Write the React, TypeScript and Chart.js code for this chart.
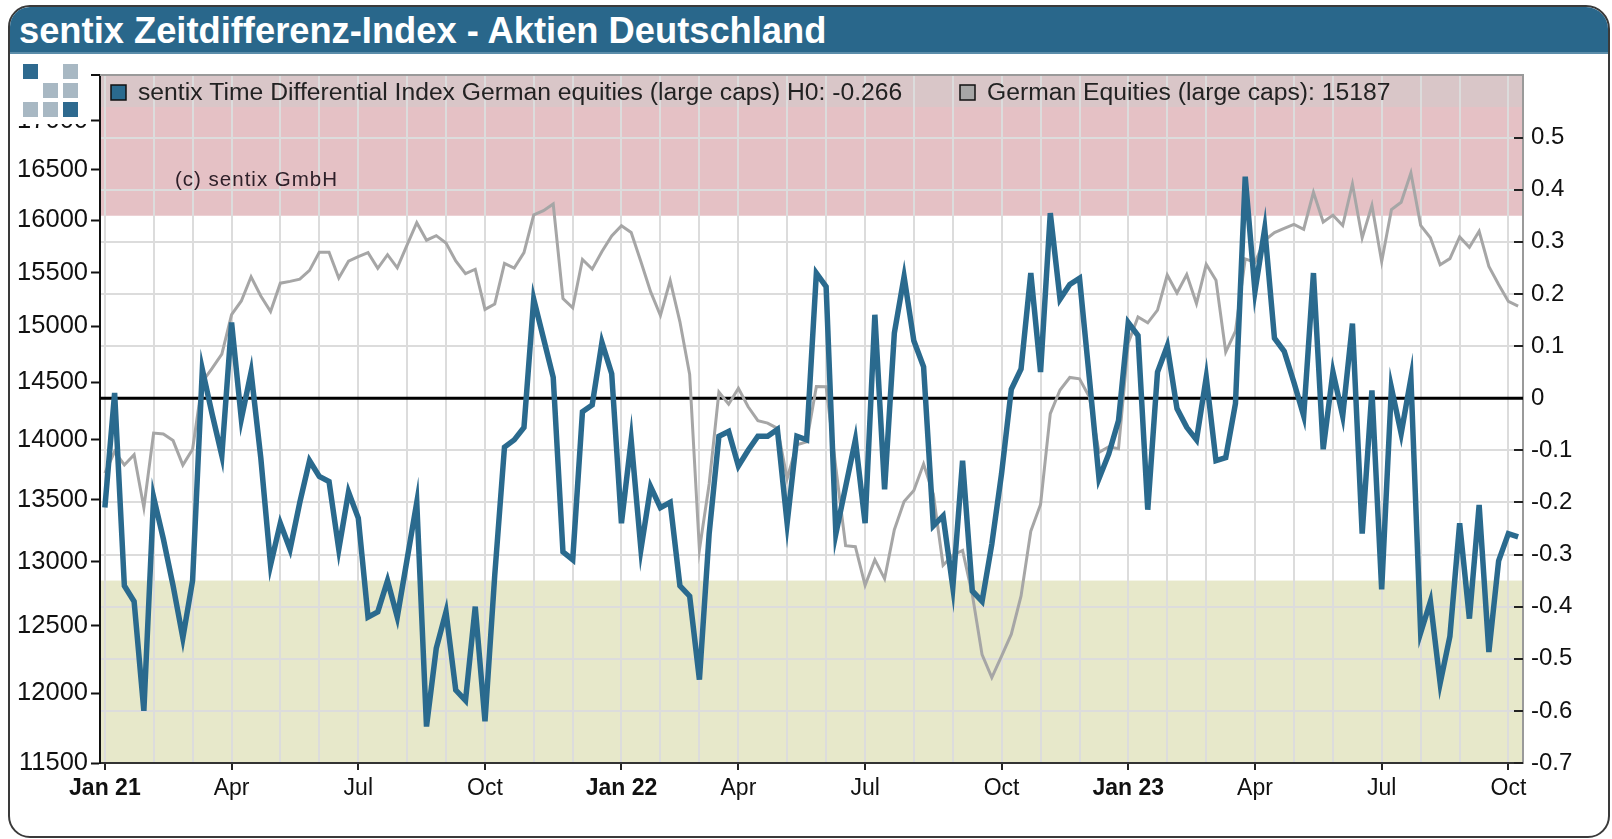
import React, { useEffect, useRef } from 'react';
import { Chart, registerables } from 'chart.js';

Chart.register(...registerables);

// ---------- data ----------
const firstWeek = Date.UTC(2021, 0, 1); // weekly observations, Fridays
const weekMs = 7 * 86400000;

const tdiValues = [
  -0.21, 0.01, -0.36, -0.39, -0.60, -0.19, -0.27, -0.36, -0.46, -0.35,
  0.055, -0.03, -0.11, 0.145, -0.04, 0.05, -0.115, -0.32, -0.24, -0.29,
  -0.20, -0.12, -0.15, -0.16, -0.29, -0.18, -0.23, -0.42, -0.41, -0.35,
  -0.42, -0.31, -0.20, -0.63, -0.48, -0.41, -0.56, -0.58, -0.40, -0.62,
  -0.34, -0.094, -0.08, -0.056, 0.19, 0.115, 0.04, -0.295, -0.31, -0.026,
  -0.013, 0.107, 0.047, -0.24, -0.08, -0.29, -0.17, -0.21, -0.20, -0.36,
  -0.38, -0.54, -0.26, -0.073, -0.064, -0.13, -0.10, -0.073, -0.073, -0.06,
  -0.24, -0.073, -0.08, 0.24, 0.214, -0.26, -0.17, -0.08, -0.24, 0.16,
  -0.175, 0.125, 0.233, 0.11, 0.06, -0.245, -0.226, -0.363, -0.12, -0.37,
  -0.39, -0.28, -0.145, 0.017, 0.056, 0.24, 0.05, 0.355, 0.19, 0.218,
  0.23, 0.04, -0.154, -0.107, -0.043, 0.145, 0.12, -0.214, 0.05, 0.10,
  -0.02, -0.056, -0.08, 0.04, -0.12, -0.114, -0.01, 0.425, 0.205, 0.325,
  0.115, 0.09, 0.03, -0.034, 0.24, -0.098, 0.05, -0.034, 0.143, -0.26,
  0.015, -0.367, 0.02, -0.068, 0.038, -0.45, -0.39, -0.547, -0.457, -0.24,
  -0.423, -0.205, -0.487, -0.312, -0.26, -0.266,
];

const equityValues = [
  13719, 13900, 13787, 13873, 13433, 14057, 14050, 13993, 13786, 13920,
  14502, 14621, 14749, 15107, 15234, 15460, 15280, 15136, 15400, 15417,
  15437, 15520, 15693, 15693, 15448, 15607, 15650, 15688, 15540, 15669,
  15544, 15761, 15977, 15808, 15852, 15781, 15609, 15490, 15531, 15156,
  15206, 15587, 15543, 15689, 16054, 16094, 16160, 15257, 15170, 15623,
  15532, 15700, 15850, 15948, 15883, 15603, 15318, 15100, 15425, 15042,
  14567, 13094, 13628, 14413, 14306, 14446, 14284, 14164, 14143, 14098,
  13674, 13958, 13982, 14462, 14460, 13762, 13126, 13118, 12813, 13015,
  12864, 13254, 13484, 13574, 13795, 13544, 12971, 13050, 13088, 12741,
  12284, 12114, 12273, 12438, 12731, 13243, 13460, 14224, 14431, 14541,
  14529, 14371, 13893, 13941, 13924, 14850, 15087, 15033, 15150, 15476,
  15308, 15482, 15210, 15578, 15428, 14768, 14957, 15629, 15597, 15808,
  15882, 15922, 15961, 15914, 16275, 15984, 16051, 15950, 16358, 15830,
  16148, 15603, 16105, 16177, 16469, 15952, 15832, 15574, 15632, 15840,
  15740, 15894, 15557, 15387, 15230, 15187,
];

const leftTicks = [11500, 12000, 12500, 13000, 13500, 14000, 14500, 15000, 15500, 16000, 16500, 17000];
const rightTicks = [-0.7, -0.6, -0.5, -0.4, -0.3, -0.2, -0.1, 0, 0.1, 0.2, 0.3, 0.4, 0.5];
const monthNames = ['Jan', 'Feb', 'Mar', 'Apr', 'May', 'Jun', 'Jul', 'Aug', 'Sep', 'Oct', 'Nov', 'Dec'];

const upperZone = 0.35;
const lowerZone = -0.35;

const tdiLabel = 'sentix Time Differential Index German equities (large caps) H0: ';
const equityLabel = 'German Equities (large caps): ';

// ---------- styles ----------
const FONT = '"Liberation Sans", Arial, Helvetica, sans-serif';
const BLUE = '#2a6a8e';
const GRAY = '#a6a6a6';
const GRID = '#dcdcdc';
const PINK = '#e5c1c5';
const GREEN = '#e7e8ca';
const LEGEND_BG = 'rgba(200,205,205,0.42)';

type MonthTick = { idx: number; label: string; quarter: boolean; jan: boolean };

const weekDates = tdiValues.map((_, i) => new Date(firstWeek + i * weekMs));
const monthTicks: MonthTick[] = [];
weekDates.forEach((d, i) => {
  const prev = i > 0 ? weekDates[i - 1] : null;
  if (!prev || prev.getUTCMonth() !== d.getUTCMonth()) {
    const m = d.getUTCMonth();
    const q = m % 3 === 0;
    const label = q ? (m === 0 ? `Jan ${String(d.getUTCFullYear()).slice(2)}` : monthNames[m]) : '';
    monthTicks.push({ idx: i, label, quarter: q, jan: m === 0 });
  }
});
const tickByIdx = new Map<number, MonthTick>();
monthTicks.forEach((t) => tickByIdx.set(t.idx, t));

const overlayPlugin = {
  id: 'sentixOverlay',
  beforeDraw(chart: any) {
    const { ctx, chartArea: a, scales } = chart;
    const yR = scales.yR;
    ctx.save();
    const yPink = yR.getPixelForValue(upperZone);
    ctx.fillStyle = PINK;
    ctx.fillRect(a.left, a.top, a.right - a.left, yPink - a.top);
    const yGreen = yR.getPixelForValue(lowerZone);
    ctx.fillStyle = GREEN;
    ctx.fillRect(a.left, yGreen, a.right - a.left, a.bottom - yGreen);
    ctx.fillStyle = LEGEND_BG;
    ctx.fillRect(a.left, a.top, a.right - a.left, 32);
    ctx.restore();
  },
  beforeDatasetsDraw(chart: any) {
    const { ctx, chartArea: a, scales } = chart;
    const yR = scales.yR;
    ctx.save();
    ctx.strokeStyle = '#9a9a9a';
    ctx.lineWidth = 2;
    ctx.beginPath();
    ctx.moveTo(a.left, a.top);
    ctx.lineTo(a.right, a.top);
    ctx.stroke();
    ctx.strokeStyle = '#222';
    ctx.lineWidth = 2;
    rightTicks.forEach((v) => {
      const y = Math.round(yR.getPixelForValue(v));
      ctx.beginPath();
      ctx.moveTo(a.right - 9, y);
      ctx.lineTo(a.right, y);
      ctx.stroke();
    });
    const y0 = yR.getPixelForValue(0);
    ctx.strokeStyle = '#000';
    ctx.lineWidth = 3;
    ctx.beginPath();
    ctx.moveTo(a.left, y0);
    ctx.lineTo(a.right, y0);
    ctx.stroke();
    ctx.restore();
  },
  afterDraw(chart: any) {
    const { ctx, chartArea: a } = chart;
    ctx.save();
    ctx.strokeStyle = '#111';
    ctx.lineWidth = 2;
    ctx.beginPath();
    ctx.moveTo(a.left - 9, a.top);
    ctx.lineTo(a.left, a.top);
    ctx.stroke();

    const ly = a.top + 18;
    ctx.font = `24.7px ${FONT}`;
    ctx.textBaseline = 'middle';
    ctx.textAlign = 'left';
    ctx.lineWidth = 1.5;
    ctx.strokeStyle = '#111';
    ctx.fillStyle = BLUE;
    ctx.fillRect(111, ly - 8, 15, 15);
    ctx.strokeRect(111, ly - 8, 15, 15);
    ctx.fillStyle = '#222';
    ctx.fillText(tdiLabel + tdiValues[tdiValues.length - 1].toFixed(3), 138, ly);
    ctx.fillStyle = GRAY;
    ctx.fillRect(960, ly - 8, 15, 15);
    ctx.strokeRect(960, ly - 8, 15, 15);
    ctx.fillStyle = '#222';
    ctx.fillText(equityLabel + String(equityValues[equityValues.length - 1]), 987, ly);

    ctx.font = `20.5px ${FONT}`;
    ctx.fillStyle = '#2e2029';
    try { (ctx as any).letterSpacing = '1px'; } catch (e) { /* ignore */ }
    ctx.fillText('(c) sentix GmbH', 175, 180);
    try { (ctx as any).letterSpacing = '0px'; } catch (e) { /* ignore */ }
    ctx.restore();
  },
};

export default function App() {
  const canvasRef = useRef<HTMLCanvasElement | null>(null);

  useEffect(() => {
    const canvas = canvasRef.current;
    if (!canvas) return;
    const chart = new Chart(canvas, {
      type: 'line',
      data: {
        datasets: [
          {
            label: 'tdi',
            data: tdiValues.map((v, i) => ({ x: i, y: v })),
            yAxisID: 'yR',
            borderColor: BLUE,
            borderWidth: 5.5,
            pointRadius: 0,
            tension: 0,
            fill: false,
          },
          {
            label: 'equities',
            data: equityValues.map((v, i) => ({ x: i, y: v })),
            yAxisID: 'yL',
            borderColor: GRAY,
            borderWidth: 3,
            pointRadius: 0,
            tension: 0,
            fill: false,
          },
        ],
      },
      options: {
        responsive: false,
        animation: false,
        devicePixelRatio: 1,
        layout: { padding: { top: 75, left: 0, right: 0, bottom: 0 } },
        plugins: { legend: { display: false }, tooltip: { enabled: false }, title: { display: false } },
        scales: {
          x: {
            type: 'linear',
            min: -0.5,
            max: 145.5,
            afterBuildTicks: (s: any) => {
              s.ticks = monthTicks.map((m) => ({ value: m.idx }));
            },
            afterFit: (s: any) => {
              s.height = 76;
            },
            grid: {
              color: GRID,
              lineWidth: 2,
              drawTicks: true,
              tickLength: 7,
              tickWidth: 2,
              tickColor: (c: any) => {
                const t = c.tick ? tickByIdx.get(c.tick.value) : undefined;
                return t && t.quarter ? '#222' : 'rgba(0,0,0,0)';
              },
            },
            border: { display: true, color: '#333', width: 2 },
            ticks: {
              autoSkip: false,
              maxRotation: 0,
              minRotation: 0,
              padding: 5,
              color: '#111',
              font: (c: any) => {
                const t = c.tick ? tickByIdx.get(c.tick.value) : undefined;
                return { size: 23, family: FONT, weight: t && t.jan ? 'bold' : 'normal' };
              },
              callback: (v: any) => {
                const t = tickByIdx.get(Number(v));
                return t ? t.label : '';
              },
            },
          },
          yL: {
            type: 'logarithmic',
            position: 'left',
            min: 11500,
            max: 17480,
            afterBuildTicks: (s: any) => {
              s.ticks = leftTicks.map((v) => ({ value: v }));
            },
            afterFit: (s: any) => {
              s.width = 100;
            },
            grid: { drawOnChartArea: false, drawTicks: true, tickLength: 9, tickWidth: 2, tickColor: '#111' },
            border: { display: true, color: '#111', width: 2 },
            ticks: {
              autoSkip: false,
              color: '#111',
              padding: 3,
              font: { size: 25.5, family: FONT },
              callback: (v: any) => String(v),
            },
          },
          yR: {
            type: 'linear',
            position: 'right',
            min: -0.7,
            max: 0.62,
            afterBuildTicks: (s: any) => {
              s.ticks = rightTicks.map((v) => ({ value: v }));
            },
            afterFit: (s: any) => {
              s.width = 89;
            },
            grid: { color: GRID, lineWidth: 2, drawTicks: false },
            border: { display: true, color: '#9a9a9a', width: 2 },
            ticks: {
              autoSkip: false,
              color: '#111',
              padding: 8,
              font: { size: 24, family: FONT },
              callback: (v: any) => String(Math.round(Number(v) * 10) / 10),
            },
          },
        },
      },
      plugins: [overlayPlugin],
    } as any);
    return () => chart.destroy();
  }, []);

  const squares: [number, number, boolean][] = [
    [0, 0, true], [2, 0, false],
    [1, 1, false], [2, 1, false],
    [0, 2, false], [1, 2, false], [2, 2, true],
  ];

  return (
    <div style={{ position: 'fixed', left: 0, top: 0, width: 1612, height: 839, background: '#fff', overflow: 'hidden' }}>
      <div
        style={{
          position: 'absolute', left: 8, top: 5, width: 1602, height: 833, boxSizing: 'border-box',
          border: '2px solid #3a3a3a', borderRadius: '22px 24px 22px 22px', overflow: 'hidden', background: '#fff',
        }}
      >
        <div
          style={{
            height: 45, background: '#29678b', borderBottom: '2px solid #5b8daa', color: '#fff',
            font: `bold 36.3px ${FONT}`, lineHeight: '47px', paddingLeft: 9, whiteSpace: 'nowrap',
          }}
        >
          sentix Zeitdifferenz-Index - Aktien Deutschland
        </div>
      </div>
      <canvas ref={canvasRef} width={1612} height={839} style={{ position: 'absolute', left: 0, top: 0, width: 1612, height: 839 }} />
      <div style={{ position: 'absolute', left: 14, top: 57, width: 76, height: 67, background: '#fff' }}>
        {squares.map(([c, r, dark], i) => (
          <div
            key={i}
            style={{
              position: 'absolute', left: 9 + c * 20, top: 7 + r * 19, width: 15, height: 15,
              background: dark ? '#2e6a8f' : '#a8b8c3',
            }}
          />
        ))}
      </div>
    </div>
  );
}
